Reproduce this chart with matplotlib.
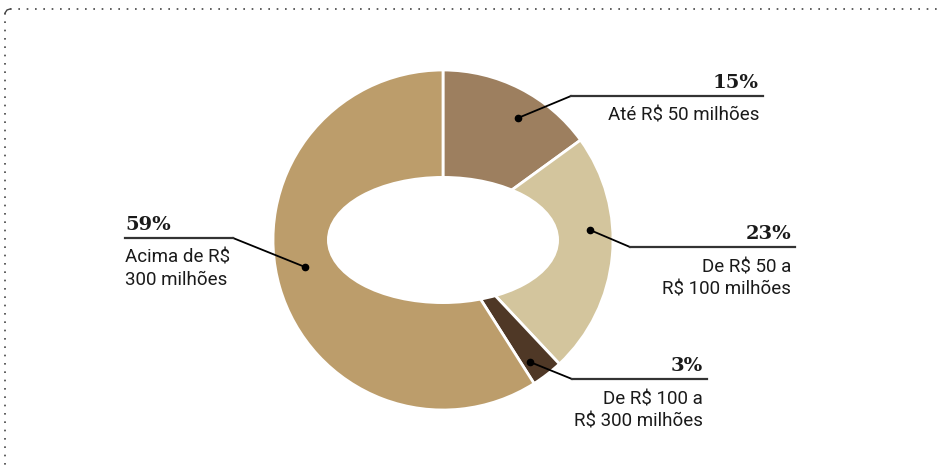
import matplotlib.pyplot as plt
from matplotlib.patches import Ellipse

shares = [15, 23, 3, 59]
colors = ['#9d7f5f', '#d3c59d', '#4f3826', '#bc9d6b']
pct_labels = ['15%', '23%', '3%', '59%']
cat_labels = ['Até R$ 50 milhões', 'De R$ 50 a\nR$ 100 milhões',
              'De R$ 100 a\nR$ 300 milhões', 'Acima de R$\n300 milhões']

H = 470
fig = plt.figure(figsize=(9.41, 4.70), dpi=100)
ax = fig.add_axes([0, 0, 1, 1])

cx, cy = 443, H - 240
ax.pie(shares, colors=colors, startangle=90, counterclock=False,
       center=(cx, cy), radius=170, frame=True,
       wedgeprops=dict(edgecolor='white', linewidth=2))
ax.add_patch(Ellipse((cx, cy), 232, 128, facecolor='white', edgecolor='none', zorder=5))
ax.set_xlim(0, 941)
ax.set_ylim(0, H)
ax.set_aspect('equal')
ax.axis('off')

sans = ['Roboto', 'DejaVu Sans']
serif = ['DejaVu Serif']

# leader lines: dot, elbow, end of rule ; text anchor side
leaders = [
    ((518, 118), (571, 96), (763, 96), 'right'),
    ((590, 230), (630, 247), (795, 247), 'right'),
    ((530, 362), (572, 379), (707, 379), 'right'),
    ((305, 267), (233, 238), (125, 238), 'left'),
]

for (dot, elbow, end, side), pct, cat in zip(leaders, pct_labels, cat_labels):
    ax.plot([dot[0], elbow[0]], [H - dot[1], H - elbow[1]], color='black', lw=1.3, zorder=6)
    ax.plot([elbow[0], end[0]], [H - elbow[1], H - end[1]], color='#333333', lw=1.6, zorder=6)
    ax.plot(dot[0], H - dot[1], 'o', color='black', ms=4.5, zorder=7)
    tx = end[0] - 4 if side == 'right' else end[0]
    ax.text(tx, H - end[1] + 4, pct, ha=side, va='bottom', fontsize=14,
            fontweight='bold', family=serif, color='#1a1a1a')
    ax.text(tx, H - end[1] - 11, cat, ha=side, va='top', fontsize=13.5,
            family=sans, color='#1a1a1a', linespacing=1.3)

# dotted frame
ax.plot([10, 941], [H - 9, H - 9], color='#444444', lw=1.2, linestyle=(0, (1, 4)))
ax.plot([5, 5], [H - 13, 0], color='#444444', lw=1.2, linestyle=(0, (1, 4)))
ax.plot([5, 7, 10], [H - 13, H - 10, H - 9], color='#444444', lw=1)

fig.savefig('out.png', dpi=100)
